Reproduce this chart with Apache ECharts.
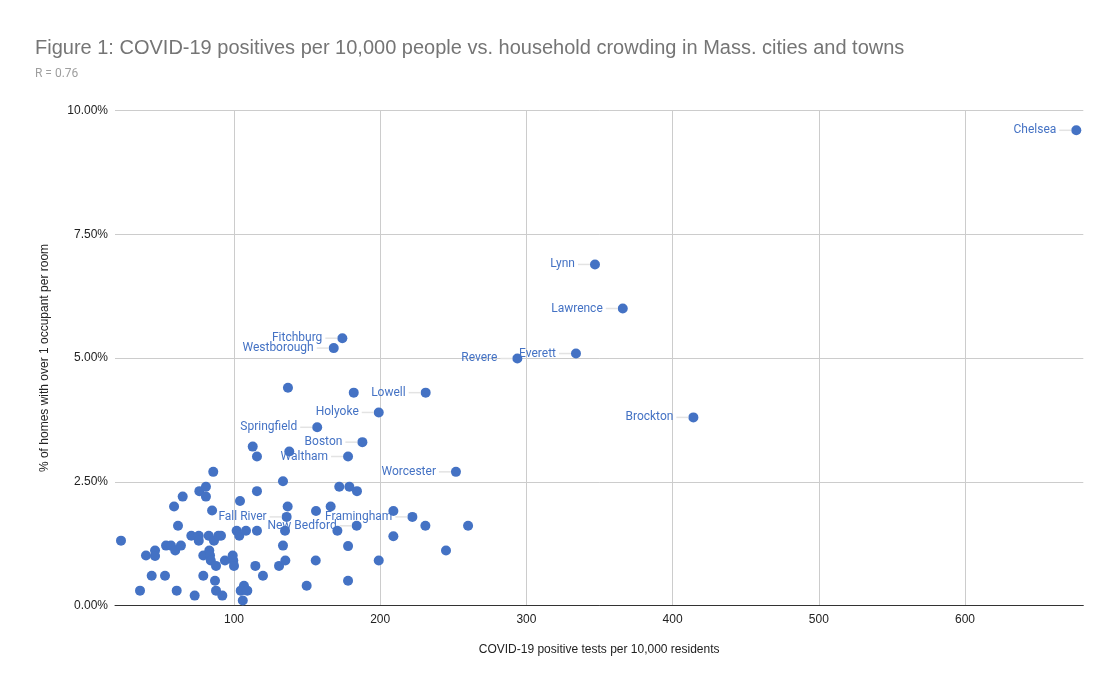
<!DOCTYPE html>
<html>
<head>
<meta charset="utf-8">
<script src="https://cdn.jsdelivr.net/npm/echarts@6/dist/echarts.min.js"></script>
<style>
html,body{margin:0;padding:0;background:#fff;}
#chart{width:1118px;height:692px;}
</style>
</head>
<body>
<div id="chart"></div>
<script>
// Labeled cities
const cityNames = ['Chelsea','Lynn','Lawrence','Everett','Revere','Brockton','Fitchburg','Westborough','Lowell','Holyoke','Springfield','Boston','Waltham','Worcester','Fall River','Framingham','New Bedford'];
const cityX = [676.1,346.9,365.9,333.9,293.8,414.2,174.1,168.2,231.1,199.0,156.9,187.8,178.0,251.8,136.0,222.0,183.9];
const cityY = [9.60,6.89,6.00,5.09,4.99,3.80,5.40,5.20,4.30,3.90,3.60,3.30,3.01,2.70,1.79,1.79,1.61];

// Unlabeled cities and towns
const otherX = [22.7,35.7,39.8,43.7,46.0,46.0,52.8,53.5,56.9,59.0,59.8,60.8,61.7,63.7,64.9,70.8,73.1,75.9,75.9,76.3,
  79.0,79.0,80.8,80.8,82.7,83.1,83.6,84.1,85.0,85.8,86.3,87.0,87.7,87.7,89.3,91.1,92.0,93.8,99.1,99.5,
  100.0,101.8,103.6,104.1,104.6,106.0,106.8,108.2,109.1,112.8,114.6,115.7,115.7,115.7,119.8,130.8,133.5,133.5,135.1,136.7,
  137.8,134.9,136.9,181.9,156.1,166.1,172.0,178.9,184.1,170.7,178.0,155.9,149.7,178.0,199.0,209.0,230.9,260.1,209.0,245.0];
const otherY = [1.31,0.30,1.01,0.60,1.11,1.00,0.60,1.21,1.21,2.00,1.11,0.30,1.61,1.21,2.20,1.41,0.20,1.41,1.31,2.31,
  0.60,1.01,2.40,2.20,1.41,1.11,1.01,0.91,1.92,2.70,1.31,0.50,0.80,0.30,1.41,1.41,0.20,0.91,1.01,0.91,
  0.80,1.51,1.41,2.11,0.30,0.10,0.40,1.51,0.30,3.21,0.80,3.01,2.31,1.51,0.60,0.80,2.51,1.21,0.91,2.00,
  3.11,1.51,4.40,4.30,1.91,2.00,2.40,2.40,2.31,1.51,1.20,0.91,0.40,0.50,0.91,1.91,1.61,1.61,1.40,1.11];

const yTicks = [0, 2.5, 5, 7.5, 10];
const titleText = 'Figure 1: COVID-19 positives per 10,000 people vs. household crowding in Mass. cities and towns';
const subtitleText = 'R = 0.76';
const xName = 'COVID-19 positive tests per 10,000 residents';
const yName = '% of homes with over 1 occupant per room';

const blue = '#4472c4';
const data = [];
otherX.forEach((x, i) => data.push({ name: '', value: [x, otherY[i]] }));
cityX.forEach((x, i) => data.push({ name: cityNames[i], value: [x, cityY[i]] }));

const chart = echarts.init(document.getElementById('chart'), null, { renderer: 'canvas' });
chart.setOption({
  animation: false,
  backgroundColor: '#ffffff',
  title: {
    text: titleText,
    subtext: subtitleText,
    left: 35,
    top: 38,
    padding: 0,
    itemGap: 10,
    textStyle: { fontFamily: 'Liberation Sans, Arial, sans-serif', fontSize: 20, fontWeight: 'normal', color: '#757575' },
    subtextStyle: { fontFamily: 'Roboto, sans-serif', fontSize: 12, color: '#9e9e9e' }
  },
  grid: { left: 115, right: 34.7, top: 110.5, bottom: 86.5 },
  xAxis: {
    type: 'value',
    min: 18.6,
    max: 680.9,
    name: xName,
    nameLocation: 'middle',
    nameGap: 38,
    nameTextStyle: { fontFamily: 'Liberation Sans, Arial, sans-serif', fontSize: 12, color: '#222' },
    axisLine: { show: true, onZero: false, lineStyle: { color: '#333', width: 1 } },
    axisTick: { show: false },
    axisLabel: { showMinLabel: false, showMaxLabel: false, margin: 8, fontFamily: 'Liberation Sans, Arial, sans-serif', fontSize: 12, color: '#222' },
    splitLine: { show: true, showMinLine: false, showMaxLine: false, lineStyle: { color: '#cccccc', width: 1 } }
  },
  yAxis: {
    type: 'value',
    min: 0,
    max: 10,
    interval: 2.5,
    name: yName,
    nameLocation: 'middle',
    nameGap: 64,
    nameTextStyle: { fontFamily: 'Liberation Sans, Arial, sans-serif', fontSize: 12, color: '#222' },
    axisLine: { show: false },
    axisTick: { show: false },
    axisLabel: {
      margin: 7,
      fontFamily: 'Liberation Sans, Arial, sans-serif', fontSize: 12, color: '#222',
      formatter: v => v.toFixed(2) + '%'
    },
    splitLine: { show: true, lineStyle: { color: '#cccccc', width: 1 } }
  },
  series: [{
    type: 'scatter',
    symbolSize: 10,
    itemStyle: { color: blue, opacity: 1 },
    data: data,
    label: {
      show: true,
      position: 'left',
      distance: 0,
      formatter: p => p.name ? '{n|' + p.name + '}{g|}' : '',
      rich: {
        n: { fontFamily: 'Roboto, sans-serif', fontSize: 12, color: blue, padding: [0, 3, 0, 0], verticalAlign: 'middle' },
        g: { width: 12, height: 1.5, backgroundColor: '#e3e3e3', verticalAlign: 'middle' }
      }
    }
  }]
});
</script>
</body>
</html>
